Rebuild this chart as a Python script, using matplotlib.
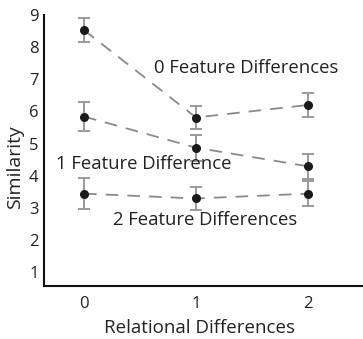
import matplotlib
matplotlib.use("Agg")
import matplotlib.pyplot as plt

relational = [0, 1, 2]
feat0 = [8.53, 5.81, 6.20]
feat0_err = [0.37, 0.37, 0.36]
feat1 = [5.84, 4.87, 4.29]
feat1_err = [0.45, 0.40, 0.38]
feat2 = [3.44, 3.29, 3.44]
feat2_err = [0.48, 0.36, 0.39]
yticks = [1, 2, 3, 4, 5, 6, 7, 8, 9]
labels = ["0 Feature Differences", "1 Feature Difference", "2 Feature Differences"]

plt.rcParams['font.family'] = ['Open Sans', 'DejaVu Sans']

fig = plt.figure(figsize=(3.63, 3.39), dpi=100)
ax = fig.add_axes([44/363, 1-286/339, 1-44/363, (286-15)/339])

for ys, es in [(feat0, feat0_err), (feat1, feat1_err), (feat2, feat2_err)]:
    ax.plot(relational, ys, color='#8a8a8a', lw=1.3, dashes=(7, 5), zorder=1)
    ax.errorbar(relational, ys, yerr=es, fmt='none', ecolor='#9a9a9a',
                elinewidth=1.4, capsize=4.3, capthick=1.4, zorder=2)
    ax.plot(relational, ys, 'o', color='#1a1a1a', ms=5.5, zorder=3)

tc = '#222222'
ax.text(1.45, 7.36, labels[0], ha='center', va='center', fontsize=13.3, color=tc)
ax.text(0.53, 4.35, labels[1], ha='center', va='center', fontsize=13.3, color=tc)
ax.text(1.085, 2.63, labels[2], ha='center', va='center', fontsize=13.3, color=tc)

ax.set_xlim(-0.357, 2.49)
ax.set_ylim(0.566, 8.97)
ax.set_xticks(relational)
ax.set_yticks(yticks)
ax.tick_params(length=0, labelsize=12, colors=tc)
ax.tick_params(axis='y', pad=4)
ax.tick_params(axis='x', pad=7)
for s in ['top', 'right']:
    ax.spines[s].set_visible(False)
for s in ['left', 'bottom']:
    ax.spines[s].set_linewidth(1.5)
    ax.spines[s].set_color('#111111')
ax.set_xlabel("Relational Differences", fontsize=13.5, color=tc)
ax.set_ylabel("Similarity", fontsize=14, color=tc)
ax.xaxis.set_label_coords((200 - 44) / (363 - 44), -(328 - 286) / (286 - 15), transform=ax.transAxes)
ax.xaxis.label.set_va('center')
ax.yaxis.set_label_coords(-(44 - 15) / (363 - 44), (286 - 167) / (286 - 15), transform=ax.transAxes)
ax.yaxis.label.set_va('center')

fig.savefig("out.png", dpi=100)
